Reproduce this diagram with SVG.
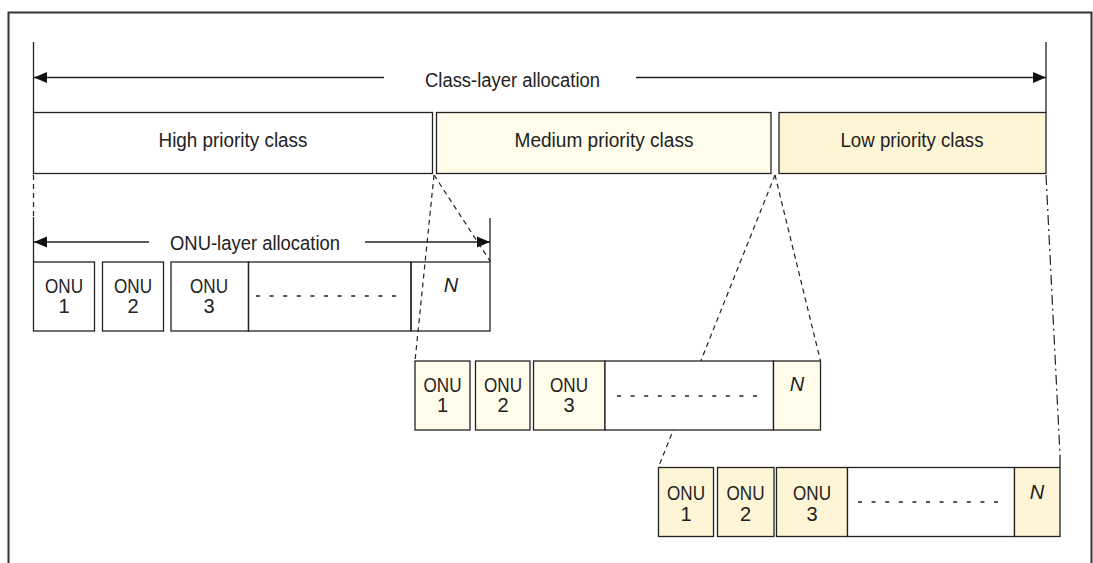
<svg xmlns="http://www.w3.org/2000/svg" width="1093" height="563" viewBox="0 0 1093 563">
<defs>
<style>
.frame{fill:none;stroke:#333;stroke-width:2}
.ln{fill:none;stroke:#222;stroke-width:1.3}
.dash{fill:none;stroke:#222;stroke-width:1.2;stroke-dasharray:5 4}
.dashdot{fill:none;stroke:#222;stroke-width:1.2;stroke-dasharray:10 4 2 4}
.box{stroke:#222;stroke-width:1.3}
.w{fill:#fff}
.n{fill:none}
.m{fill:#fffcec}
.l{fill:#fdf5d6}
.dots{fill:none;stroke:#222;stroke-width:1.3;stroke-dasharray:4 9.6}
text{font-family:"Liberation Sans",Arial,sans-serif;font-size:20px;fill:#222;text-anchor:middle}
.it{font-style:italic}
</style>
<marker id="arr" viewBox="0 0 13 12" refX="13" refY="6" markerWidth="13" markerHeight="12" markerUnits="userSpaceOnUse" orient="auto">
<path d="M0,0.5 L13,6 L0,11.5 Z" fill="#111"/>
</marker>
</defs>
<rect width="1093" height="563" fill="#fff"/>
<path class="frame" d="M8.5,563 V12.5 H1091.5 V563"/>

<g id="connectors">
<line class="ln" x1="33.5" y1="42" x2="33.5" y2="112.5"/>
<line class="ln" x1="1046" y1="42" x2="1046" y2="112.5"/>
<line class="ln" x1="384" y1="77.5" x2="34" y2="77.5" marker-end="url(#arr)"/>
<line class="ln" x1="636" y1="77.5" x2="1046" y2="77.5" marker-end="url(#arr)"/>
<line class="dash" x1="33.5" y1="175" x2="33.5" y2="217"/>
<line class="ln" x1="33.5" y1="217" x2="33.5" y2="262"/>
<line class="ln" x1="490" y1="218" x2="490" y2="262"/>
<line class="ln" x1="149" y1="242" x2="34" y2="242" marker-end="url(#arr)"/>
<line class="ln" x1="365" y1="242" x2="490" y2="242" marker-end="url(#arr)"/>
<line class="dash" x1="434" y1="175" x2="490" y2="261"/>
<line class="dash" x1="434" y1="175" x2="415" y2="361"/>
<line class="dash" x1="775" y1="175" x2="820.5" y2="361"/>
<line class="dash" x1="775" y1="175" x2="658.5" y2="467"/>
<line class="dashdot" x1="1046" y1="175" x2="1060" y2="455"/>
<line class="ln" x1="1060" y1="455" x2="1060" y2="467"/>
</g>

<g id="class-high">
<rect class="box w" x="33.5" y="112.5" width="399" height="61"/>
<text x="233" y="147" textLength="149" lengthAdjust="spacingAndGlyphs">High priority class</text>
</g>
<g id="class-medium">
<rect class="box m" x="436.5" y="112.5" width="334.5" height="61"/>
<text x="604" y="147" textLength="179" lengthAdjust="spacingAndGlyphs">Medium priority class</text>
</g>
<g id="class-low">
<rect class="box l" x="779" y="112.5" width="267" height="61"/>
<text x="912" y="147" textLength="143" lengthAdjust="spacingAndGlyphs">Low priority class</text>
</g>
<g id="label-class-layer">
<text x="512.5" y="87" textLength="175" lengthAdjust="spacingAndGlyphs">Class-layer allocation</text>
</g>
<g id="label-onu-layer">
<text x="255" y="250" textLength="170" lengthAdjust="spacingAndGlyphs">ONU-layer allocation</text>
</g>

<g id="high-onu1">
<rect class="box n" x="33.5" y="262" width="61" height="69"/>
<text x="64" y="293" textLength="38" lengthAdjust="spacingAndGlyphs">ONU</text><text x="64" y="313">1</text>
</g>
<g id="high-onu2">
<rect class="box n" x="102.5" y="262" width="61" height="69"/>
<text x="133" y="293" textLength="38" lengthAdjust="spacingAndGlyphs">ONU</text><text x="133" y="313">2</text>
</g>
<g id="high-onu3">
<rect class="box n" x="171" y="262" width="77.5" height="69"/>
<text x="209" y="293" textLength="38" lengthAdjust="spacingAndGlyphs">ONU</text><text x="209" y="313">3</text>
</g>
<g id="high-gap">
<rect class="box n" x="248.5" y="262" width="162.5" height="69"/>
<line class="dots" x1="256" y1="296" x2="402" y2="296"/>
</g>
<g id="high-onuN">
<rect class="box n" x="411" y="262" width="79" height="69"/>
<text class="it" x="451" y="292">N</text>
</g>

<g id="med-onu1">
<rect class="box m" x="415" y="361" width="55" height="69"/>
<text x="442.5" y="392" textLength="38" lengthAdjust="spacingAndGlyphs">ONU</text><text x="442.5" y="412">1</text>
</g>
<g id="med-onu2">
<rect class="box m" x="475.5" y="361" width="54.5" height="69"/>
<text x="503" y="392" textLength="38" lengthAdjust="spacingAndGlyphs">ONU</text><text x="503" y="412">2</text>
</g>
<g id="med-onu3">
<rect class="box m" x="533.5" y="361" width="71.5" height="69"/>
<text x="569" y="392" textLength="38" lengthAdjust="spacingAndGlyphs">ONU</text><text x="569" y="412">3</text>
</g>
<g id="med-gap">
<rect class="box w" x="605" y="361" width="168.5" height="69"/>
<line class="dots" x1="617" y1="396" x2="762" y2="396"/>
</g>
<g id="med-onuN">
<rect class="box m" x="773.5" y="361" width="47" height="69"/>
<text class="it" x="797" y="391">N</text>
</g>

<g id="low-onu1">
<rect class="box l" x="658.5" y="467.5" width="55" height="69"/>
<text x="686" y="500" textLength="38" lengthAdjust="spacingAndGlyphs">ONU</text><text x="686" y="521">1</text>
</g>
<g id="low-onu2">
<rect class="box l" x="717.5" y="467.5" width="56.5" height="69"/>
<text x="745.5" y="500" textLength="38" lengthAdjust="spacingAndGlyphs">ONU</text><text x="745.5" y="521">2</text>
</g>
<g id="low-onu3">
<rect class="box l" x="776.5" y="467.5" width="71" height="69"/>
<text x="812" y="500" textLength="38" lengthAdjust="spacingAndGlyphs">ONU</text><text x="812" y="521">3</text>
</g>
<g id="low-gap">
<rect class="box w" x="847.5" y="467.5" width="167" height="69"/>
<line class="dots" x1="858" y1="502" x2="1004" y2="502"/>
</g>
<g id="low-onuN">
<rect class="box l" x="1014.5" y="467.5" width="45.5" height="69"/>
<text class="it" x="1037" y="499">N</text>
</g>
</svg>
